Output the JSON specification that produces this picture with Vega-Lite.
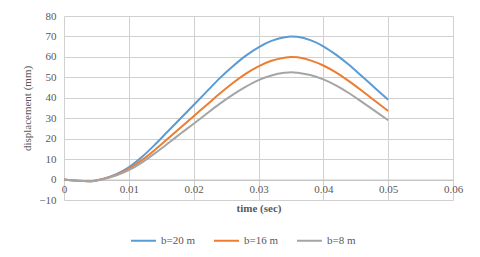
{
  "$schema": "https://vega.github.io/schema/vega-lite/v6.json",
  "width": 389,
  "height": 184,
  "autosize": {"type": "none"},
  "padding": {"left": 64, "top": 16, "right": 27, "bottom": 57},
  "background": "white",
  "config": {
    "font": "Liberation Serif",
    "view": {"stroke": null},
    "axis": {"labelFont": "Liberation Serif", "titleFont": "Liberation Serif", "labelColor": "#595959", "titleColor": "#595959", "grid": true, "gridColor": "#d0d0d0", "gridWidth": 1, "gridOpacity": 1, "labelFontSize": 11, "titleFontSize": 11},
    "legend": {"labelFont": "Liberation Serif"}
  },
  "data": {"values": [
    {"t": 0, "d": 0, "s": "b=20 m"}, {"t": 0.002, "d": -0.6, "s": "b=20 m"}, {"t": 0.004, "d": -0.8, "s": "b=20 m"}, {"t": 0.006, "d": 0.3, "s": "b=20 m"}, {"t": 0.008, "d": 2.5, "s": "b=20 m"}, {"t": 0.010, "d": 6, "s": "b=20 m"}, {"t": 0.012, "d": 11, "s": "b=20 m"}, {"t": 0.014, "d": 17, "s": "b=20 m"}, {"t": 0.016, "d": 23.5, "s": "b=20 m"}, {"t": 0.018, "d": 30, "s": "b=20 m"}, {"t": 0.020, "d": 36.5, "s": "b=20 m"}, {"t": 0.022, "d": 43, "s": "b=20 m"}, {"t": 0.024, "d": 49.5, "s": "b=20 m"}, {"t": 0.026, "d": 55.3, "s": "b=20 m"}, {"t": 0.028, "d": 60.5, "s": "b=20 m"}, {"t": 0.030, "d": 64.7, "s": "b=20 m"}, {"t": 0.032, "d": 67.8, "s": "b=20 m"}, {"t": 0.034, "d": 69.6, "s": "b=20 m"}, {"t": 0.035, "d": 70, "s": "b=20 m"}, {"t": 0.036, "d": 69.8, "s": "b=20 m"}, {"t": 0.038, "d": 68.2, "s": "b=20 m"}, {"t": 0.040, "d": 65.2, "s": "b=20 m"}, {"t": 0.042, "d": 61, "s": "b=20 m"}, {"t": 0.044, "d": 56, "s": "b=20 m"}, {"t": 0.046, "d": 50.4, "s": "b=20 m"}, {"t": 0.048, "d": 44.7, "s": "b=20 m"}, {"t": 0.050, "d": 39, "s": "b=20 m"},
    {"t": 0, "d": 0, "s": "b=16 m"}, {"t": 0.002, "d": -0.6, "s": "b=16 m"}, {"t": 0.004, "d": -0.8, "s": "b=16 m"}, {"t": 0.006, "d": 0.3, "s": "b=16 m"}, {"t": 0.008, "d": 2.3, "s": "b=16 m"}, {"t": 0.010, "d": 5.3, "s": "b=16 m"}, {"t": 0.012, "d": 9.5, "s": "b=16 m"}, {"t": 0.014, "d": 14.5, "s": "b=16 m"}, {"t": 0.016, "d": 20, "s": "b=16 m"}, {"t": 0.018, "d": 25.5, "s": "b=16 m"}, {"t": 0.020, "d": 31, "s": "b=16 m"}, {"t": 0.022, "d": 36.5, "s": "b=16 m"}, {"t": 0.024, "d": 42, "s": "b=16 m"}, {"t": 0.026, "d": 47.1, "s": "b=16 m"}, {"t": 0.028, "d": 51.7, "s": "b=16 m"}, {"t": 0.030, "d": 55.4, "s": "b=16 m"}, {"t": 0.032, "d": 58.1, "s": "b=16 m"}, {"t": 0.034, "d": 59.6, "s": "b=16 m"}, {"t": 0.035, "d": 60, "s": "b=16 m"}, {"t": 0.036, "d": 59.8, "s": "b=16 m"}, {"t": 0.038, "d": 58.3, "s": "b=16 m"}, {"t": 0.040, "d": 55.8, "s": "b=16 m"}, {"t": 0.042, "d": 52.3, "s": "b=16 m"}, {"t": 0.044, "d": 48, "s": "b=16 m"}, {"t": 0.046, "d": 43.3, "s": "b=16 m"}, {"t": 0.048, "d": 38.4, "s": "b=16 m"}, {"t": 0.050, "d": 33.5, "s": "b=16 m"},
    {"t": 0, "d": 0, "s": "b=8 m"}, {"t": 0.002, "d": -0.6, "s": "b=8 m"}, {"t": 0.004, "d": -0.8, "s": "b=8 m"}, {"t": 0.006, "d": 0.2, "s": "b=8 m"}, {"t": 0.008, "d": 2, "s": "b=8 m"}, {"t": 0.010, "d": 4.6, "s": "b=8 m"}, {"t": 0.012, "d": 8.3, "s": "b=8 m"}, {"t": 0.014, "d": 12.8, "s": "b=8 m"}, {"t": 0.016, "d": 17.6, "s": "b=8 m"}, {"t": 0.018, "d": 22.5, "s": "b=8 m"}, {"t": 0.020, "d": 27.3, "s": "b=8 m"}, {"t": 0.022, "d": 32.2, "s": "b=8 m"}, {"t": 0.024, "d": 37, "s": "b=8 m"}, {"t": 0.026, "d": 41.4, "s": "b=8 m"}, {"t": 0.028, "d": 45.3, "s": "b=8 m"}, {"t": 0.030, "d": 48.6, "s": "b=8 m"}, {"t": 0.032, "d": 50.9, "s": "b=8 m"}, {"t": 0.034, "d": 52.2, "s": "b=8 m"}, {"t": 0.035, "d": 52.5, "s": "b=8 m"}, {"t": 0.036, "d": 52.3, "s": "b=8 m"}, {"t": 0.038, "d": 51.1, "s": "b=8 m"}, {"t": 0.040, "d": 49, "s": "b=8 m"}, {"t": 0.042, "d": 46, "s": "b=8 m"}, {"t": 0.044, "d": 42.2, "s": "b=8 m"}, {"t": 0.046, "d": 37.9, "s": "b=8 m"}, {"t": 0.048, "d": 33.5, "s": "b=8 m"}, {"t": 0.050, "d": 29, "s": "b=8 m"}
  ]},
  "mark": {"type": "line", "interpolate": "monotone", "strokeWidth": 2},
  "encoding": {
    "x": {"field": "t", "type": "quantitative", "scale": {"domain": [0, 0.06], "nice": false},
      "axis": {"values": [0, 0.01, 0.02, 0.03, 0.04, 0.05, 0.06], "format": ".2~f", "title": "time (sec)", "titleFontWeight": "bold", "offset": -20.4, "domainColor": "#bfbfbf", "ticks": false, "labelPadding": 4, "titlePadding": 8, "labelFlush": false, "grid": true}},
    "y": {"field": "d", "type": "quantitative", "scale": {"domain": [-10, 80], "nice": false},
      "axis": {"values": [-10, 0, 10, 20, 30, 40, 50, 60, 70, 80], "title": "displacement (mm)", "titleFontWeight": "normal", "domain": false, "ticks": false, "labelPadding": 8, "titlePadding": 6, "grid": true}},
    "color": {"field": "s", "type": "nominal", "scale": {"domain": ["b=20 m", "b=16 m", "b=8 m"], "range": ["#5b9bd5", "#ed7d31", "#a5a5a5"]},
      "legend": {"title": null, "orient": "none", "legendX": 66, "legendY": 211, "direction": "horizontal", "symbolType": "stroke", "symbolSize": 625, "symbolStrokeWidth": 2, "labelFont": "Liberation Serif", "labelFontSize": 11, "labelColor": "#595959", "columnPadding": 14, "labelOffset": 4}}
  }
}
